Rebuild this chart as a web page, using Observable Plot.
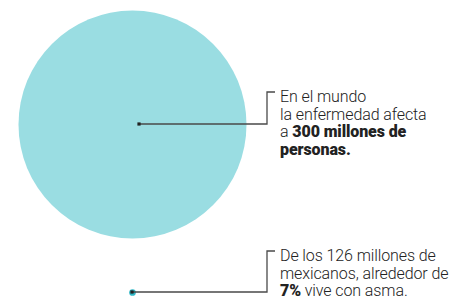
<!DOCTYPE html>
<html><head><meta charset="utf-8">
<script src="https://cdn.jsdelivr.net/npm/d3@7"></script>
<script src="https://cdn.jsdelivr.net/npm/@observablehq/plot@0.6"></script>
<style>body{margin:0;background:#fff;} svg{display:block;}</style>
</head><body><div id="chart"></div>
<script>
// Data
const categories = ["Mundo", "México"];
const values = [300, 8.8]; // millones de personas con asma
const noteMundo = ["En el mundo", "la enfermedad afecta", "a **300 millones de**", "**personas.**"];
const noteMexico = ["De los 126 millones de", "mexicanos, alrededor de", "**7%** vive con asma."];
const notes = [noteMundo, noteMexico];

const data = categories.map((c, i) => ({cat: c, value: values[i], note: notes[i]}));

// Layout (styles) for the annotations
const layout = {
  anchorDx: [7, 0],      // where connector starts relative to circle center
  elbowDx: 135,          // vertical part of connector, relative to center
  firstBaselineDy: [-22, -31],
  lineHeight: 17.5
};

function annotations(index, scales, values, dims) {
  const g = d3.create("svg:g");
  const cx = (dims.marginLeft + dims.width - dims.marginRight) / 2;
  for (const i of index) {
    const d = data[i];
    const cy = scales.y(d.cat);
    const x0 = cx + layout.anchorDx[i];
    const ex = cx + layout.elbowDx;
    const base = cy + layout.firstBaselineDy[i];
    const top = base - 10;
    g.append("path")
      .attr("d", `M${x0},${cy}H${ex}V${top}H${ex + 8}`)
      .attr("fill", "none").attr("stroke", "#4a4a4a").attr("stroke-width", 1.3);
    g.append("rect")
      .attr("x", x0 - 1.6).attr("y", cy - 1.6).attr("width", 3.2).attr("height", 3.2)
      .attr("fill", "#222");
    const t = g.append("text")
      .attr("text-anchor", "start")
      .attr("font-family", "Roboto, 'Open Sans', sans-serif")
      .attr("font-size", 16).attr("fill", "#222").attr("letter-spacing", -0.1);
    d.note.forEach((line, j) => {
      const ln = t.append("tspan").attr("x", ex + 13).attr("y", base + j * layout.lineHeight);
      line.split("**").forEach((seg, k) => {
        if (!seg) return;
        ln.append("tspan").attr("font-weight", k % 2 ? 900 : 300).text(seg);
      });
    });
  }
  return g.node();
}

const chart = Plot.plot({
  width: 453,
  height: 301,
  marginLeft: 0,
  marginRight: 189,
  marginTop: 124,
  marginBottom: 9,
  x: {axis: null},
  y: {type: "point", domain: categories, padding: 0, axis: null},
  r: {type: "linear", domain: [0, 300], range: [0, 114]},
  color: {domain: categories, range: ["#9adde2", "#2fb7c6"]},
  marks: [
    Plot.dot(data, {y: "cat", r: "value", fill: "cat", stroke: null}),
    Plot.dot(data, {y: "cat", render: annotations})
  ]
});
document.getElementById("chart").append(chart);
</script>
</body></html>
